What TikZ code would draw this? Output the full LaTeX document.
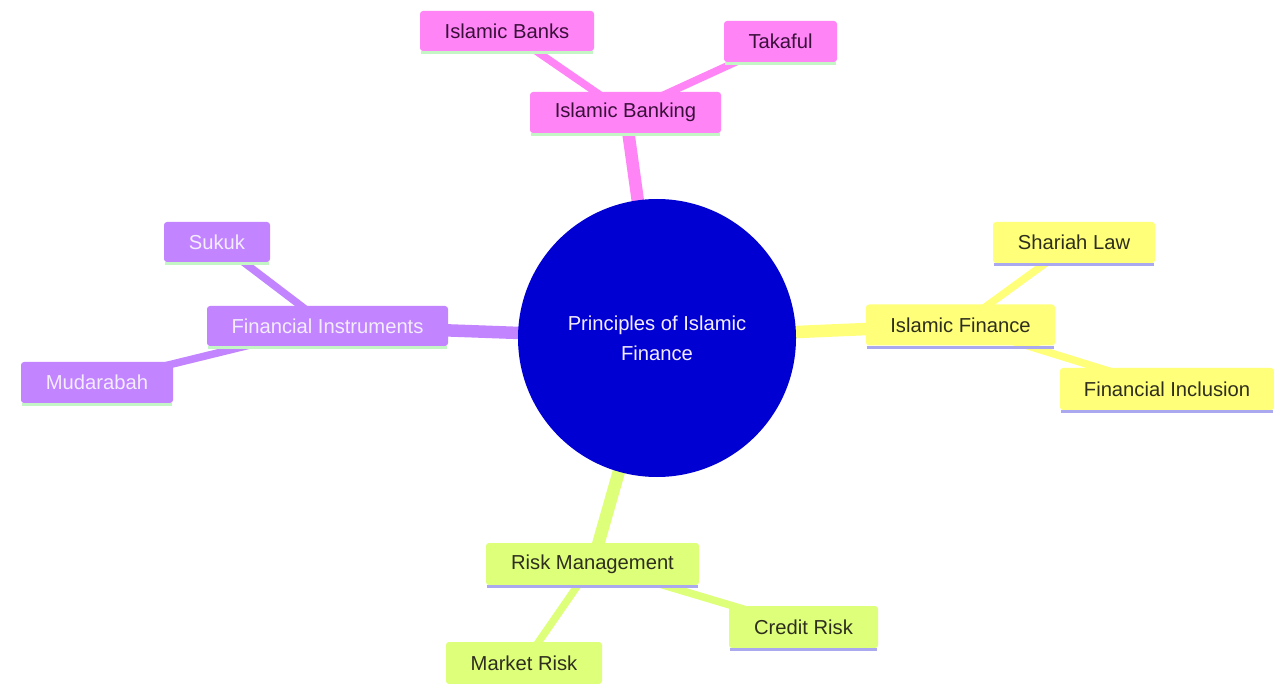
\documentclass[tikz,border=0pt]{standalone}
\usepackage{fontspec}
\setmainfont{Liberation Sans}
\usetikzlibrary{backgrounds}
\definecolor{pinkF}{HTML}{FF85F7}
\definecolor{yelF}{HTML}{FFFF7A}
\definecolor{limeF}{HTML}{DEFF7A}
\definecolor{purF}{HTML}{C285FF}
\definecolor{rootF}{HTML}{0000D2}
\definecolor{greenL}{HTML}{C4F5C4}
\definecolor{lavL}{HTML}{AAA8EE}
\definecolor{pinkT}{HTML}{3A103A}
\definecolor{darkT}{HTML}{2E2E1E}
\definecolor{purT}{HTML}{F4ECFF}
\tikzset{
  x=1pt, y=-1pt,
  box/.style={rectangle, rounded corners=3pt, inner sep=0pt, font=\fontsize{20.2}{24}\selectfont},
  pinkbox/.style={box, fill=pinkF, text=pinkT},
  yelbox/.style={box, fill=yelF, text=darkT},
  limebox/.style={box, fill=limeF, text=darkT},
  purbox/.style={box, fill=purF, text=purT},
  root/.style={circle, fill=rootF, text=purT, inner sep=0pt, minimum size=278pt, align=center, font=\fontsize{20.2}{30}\selectfont},
  eone/.style={line width=12.5pt},
  etwo/.style={line width=7.5pt},
  uline/.style={line width=3pt}
}
\newcommand{\ul}[2]{\draw[uline,#2] ([yshift=-1.5pt,xshift=1pt]#1.south west) -- ([yshift=-1.5pt,xshift=-1pt]#1.south east);}
\begin{document}
\begin{tikzpicture}
\useasboundingbox (0,0) rectangle (1274,684);
% root
\node[root] (r) at (657,338) {Principles of Islamic\\Finance};
% pink section
\node[pinkbox, minimum width=191pt, minimum height=41pt] (ib) at (625.5,112.5) {Islamic Banking};
\node[pinkbox, minimum width=174pt, minimum height=40pt] (ibs) at (507,31) {Islamic Banks};
\node[pinkbox, minimum width=113pt, minimum height=41pt] (tk) at (780.5,41.5) {Takaful};
% yellow section
\node[yelbox, minimum width=189pt, minimum height=41pt] (if) at (960.5,325) {Islamic Finance};
\node[yelbox, minimum width=162pt, minimum height=41pt] (sl) at (1074,242.5) {Shariah Law};
\node[yelbox, minimum width=214pt, minimum height=42pt] (fi) at (1167,389) {Financial Inclusion};
% purple section
\node[purbox, minimum width=241pt, minimum height=40pt] (fin) at (327.5,326) {Financial Instruments};
\node[purbox, minimum width=106pt, minimum height=40pt] (sk) at (217,242) {Sukuk};
\node[purbox, minimum width=152pt, minimum height=41pt] (md) at (97,382.5) {Mudarabah};
% lime section
\node[limebox, minimum width=213pt, minimum height=42pt] (rm) at (592.5,564) {Risk Management};
\node[limebox, minimum width=149pt, minimum height=42pt] (cr) at (803.5,627) {Credit Risk};
\node[limebox, minimum width=156pt, minimum height=42pt] (mr) at (524,663) {Market Risk};
% underlines
\ul{ib}{greenL}
\ul{ibs}{greenL}
\ul{tk}{greenL}
\ul{if}{lavL}
\ul{sl}{lavL}
\ul{fi}{lavL}
\ul{fin}{greenL}
\ul{sk}{greenL}
\ul{md}{greenL}
\ul{rm}{lavL}
\ul{cr}{lavL}
\ul{mr}{lavL}
% edges
\begin{scope}[on background layer]
\fill[white] (0,0) rectangle (1274,684);
\draw[eone, pinkF] (r.center) -- (ib.center);
\draw[etwo, pinkF] (ib.center) -- (ibs.center);
\draw[etwo, pinkF] (ib.center) -- (tk.center);
\draw[eone, yelF] (r.center) -- (if.center);
\draw[etwo, yelF] (if.center) -- (sl.center);
\draw[etwo, yelF] (if.center) -- (fi.center);
\draw[eone, purF] (r.center) -- (fin.center);
\draw[etwo, purF] (fin.center) -- (sk.center);
\draw[etwo, purF] (fin.center) -- (md.center);
\draw[eone, limeF] (r.center) -- (rm.center);
\draw[etwo, limeF] (rm.center) -- (cr.center);
\draw[etwo, limeF] (rm.center) -- (mr.center);
\end{scope}
\end{tikzpicture}
\end{document}
